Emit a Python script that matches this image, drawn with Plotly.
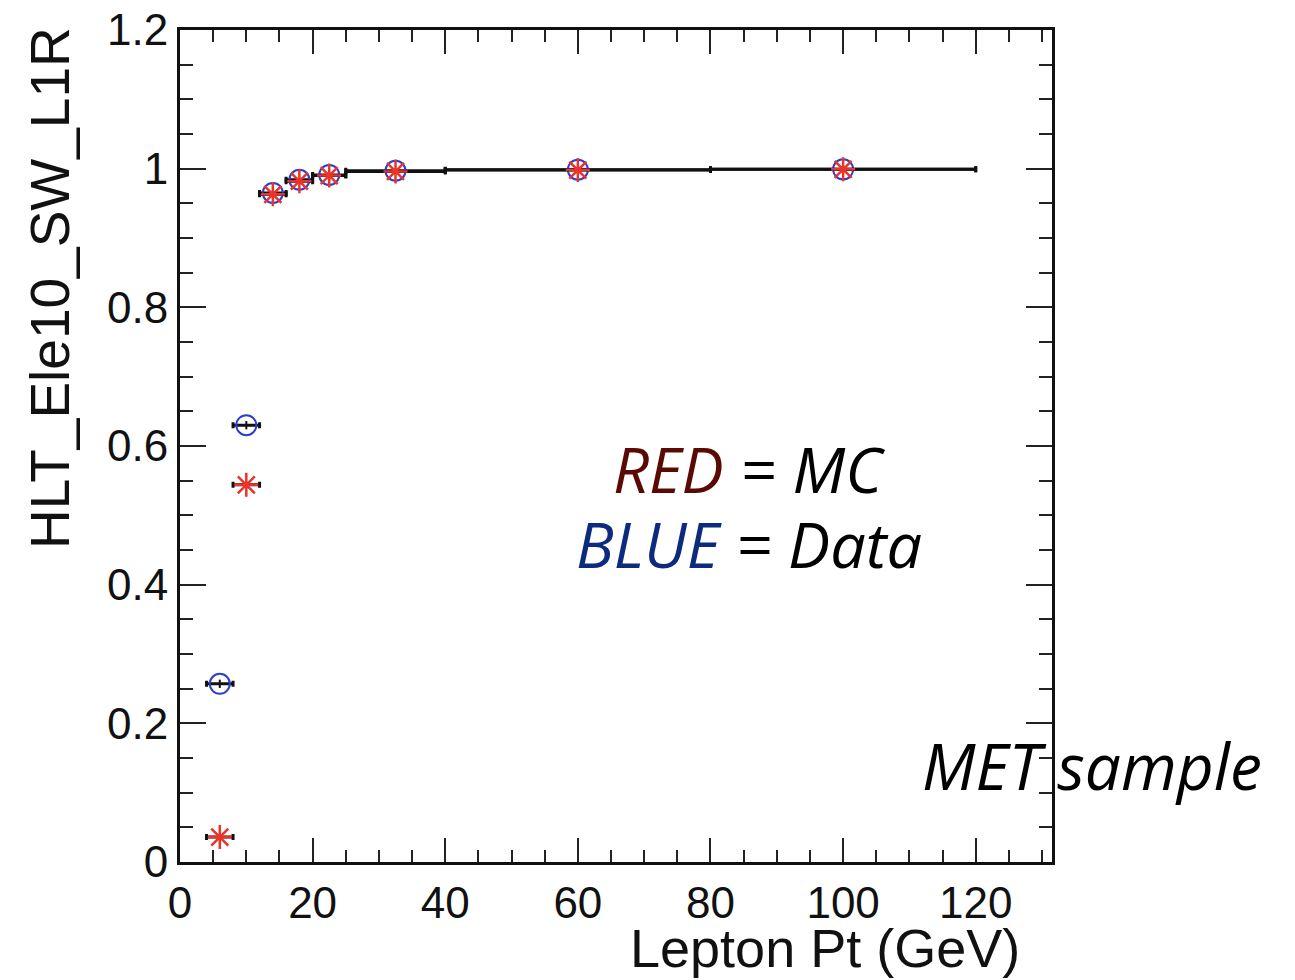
import plotly.graph_objects as go

# ---- data ----
pt_centers = [6, 10, 14, 18, 22.5, 32.5, 60, 100]
pt_halfwidth = [2, 2, 2, 2, 2.5, 7.5, 20, 20]
eff_data = [0.257, 0.630, 0.965, 0.984, 0.991, 0.997, 0.9985, 0.999]
eff_data_err = [0.006, 0.006, 0.004, 0.003, 0.002, 0.001, 0.001, 0.001]
eff_mc = [0.036, 0.544, 0.963, 0.982, 0.990, 0.996, 0.998, 0.999]
eff_mc_err = [0.003, 0.004, 0.003, 0.002, 0.001, 0.001, 0.001, 0.001]

x_ticks = [0, 20, 40, 60, 80, 100, 120]
y_ticks = [0, 0.2, 0.4, 0.6, 0.8, 1, 1.2]
y_ticklabels = ["0", "0.2", "0.4", "0.6", "0.8", "1", "1.2"]

# plot-area pixel geometry
W, H = 1295, 980
L, R, T, B = 180, 1052, 30, 862
pw, ph = R - L, B - T


def px(xp):
    return (xp - L) / pw


def py(yp):
    return (B - yp) / ph


fig = go.Figure()

fig.add_trace(go.Scatter(
    x=pt_centers, y=eff_data, mode="markers",
    marker=dict(symbol="circle-open", size=20, color="#2a3fd0",
                line=dict(width=2, color="#2a3fd0")),
    error_x=dict(type="data", array=pt_halfwidth, color="#111111",
                 thickness=3, width=3),
    error_y=dict(type="data", array=eff_data_err, color="#111111",
                 thickness=2, width=0),
    showlegend=False,
))

fig.add_trace(go.Scatter(
    x=pt_centers, y=eff_mc, mode="markers",
    marker=dict(symbol="asterisk-open", size=20, color="#e8342a",
                line=dict(width=2.5, color="#e8342a")),
    error_x=dict(type="data", array=pt_halfwidth, color="#111111",
                 thickness=3, width=3),
    error_y=dict(type="data", array=eff_mc_err, color="#111111",
                 thickness=2, width=0),
    showlegend=False,
))

axis_font = dict(family="Liberation Sans, Arial, sans-serif", size=44, color="#111111")

fig.update_xaxes(
    range=[0, 131.5], tickvals=x_ticks, ticktext=[str(v) for v in x_ticks],
    ticks="inside", ticklen=24, tickwidth=2, tickcolor="#222222",
    minor=dict(dtick=5, tick0=0, ticks="inside", ticklen=12, tickwidth=2, tickcolor="#222222"),
    showline=True, linewidth=3, linecolor="#111111", mirror="allticks",
    showgrid=False, zeroline=False, tickfont=axis_font, automargin=False,
)
fig.update_yaxes(
    range=[0, 1.2], tickvals=y_ticks, ticktext=y_ticklabels,
    ticks="inside", ticklen=26, tickwidth=2, tickcolor="#222222",
    minor=dict(dtick=0.05, tick0=0, ticks="inside", ticklen=13, tickwidth=2, tickcolor="#222222"),
    showline=True, linewidth=3, linecolor="#111111", mirror="allticks",
    showgrid=False, zeroline=False, tickfont=axis_font, automargin=False,
)

title_font = dict(family="Liberation Sans, Arial, sans-serif", size=55, color="#111111")
xtitle_font = dict(family="Liberation Sans, Arial, sans-serif", size=54, color="#111111")
note_font = "Open Sans, Noto Sans, sans-serif"

annotations = [
    dict(text="HLT_Ele10_SW_L1R", x=px(50), y=py(25), xref="paper", yref="paper",
         textangle=-90, xanchor="center", yanchor="top", showarrow=False, font=title_font),
    dict(text="Lepton Pt (GeV)", x=px(1022), y=py(980), xref="paper", yref="paper",
         xanchor="right", yanchor="bottom", showarrow=False, font=xtitle_font),
    dict(text="<i><span style='color:#5a0a05'>RED</span> = MC</i>",
         x=px(749), y=py(468), xref="paper", yref="paper",
         xanchor="center", yanchor="middle", showarrow=False,
         font=dict(family=note_font, size=63, color="#000000")),
    dict(text="<i><span style='color:#0b2a80'>BLUE</span> = Data</i>",
         x=px(749), y=py(543), xref="paper", yref="paper",
         xanchor="center", yanchor="middle", showarrow=False,
         font=dict(family=note_font, size=63, color="#000000")),
    dict(text="<i>MET sample</i>",
         x=px(1092), y=py(765), xref="paper", yref="paper",
         xanchor="center", yanchor="middle", showarrow=False,
         font=dict(family=note_font, size=64, color="#000000")),
]

fig.update_layout(
    width=W, height=H,
    margin=dict(l=L, r=W - R, t=T, b=H - B, pad=0),
    paper_bgcolor="white", plot_bgcolor="white",
    annotations=annotations,
)

fig.write_html("out.html")
